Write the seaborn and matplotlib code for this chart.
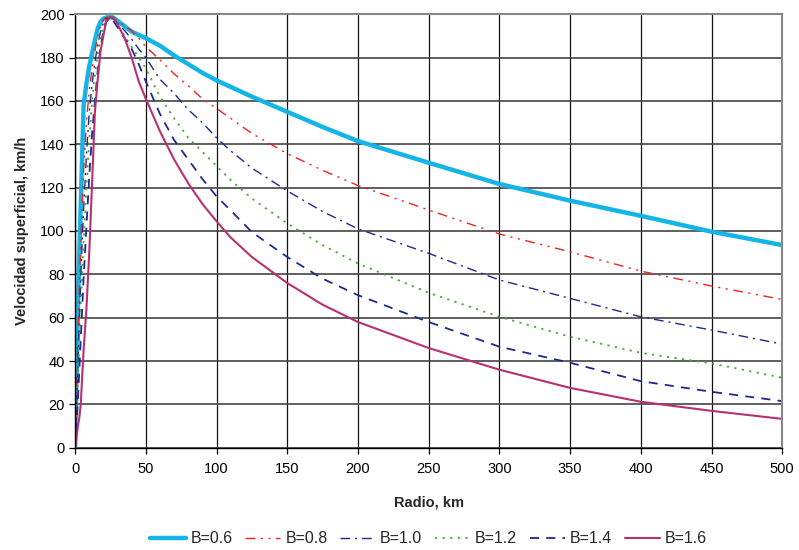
import matplotlib
matplotlib.use("Agg")
import matplotlib.pyplot as plt
import seaborn as sns
import pandas as pd

radius = [0, 1, 2, 3, 4, 5, 6, 8, 10, 12, 14, 16, 18, 20, 22, 25, 27, 30, 35, 40, 45, 50,
          60, 70, 80, 90, 100, 110, 125, 150, 175, 200, 250, 300, 350, 400, 450, 500]

v_b06 = [0, 35, 65, 90, 112, 135, 158, 168, 176, 182, 188, 193.5, 196.5, 198, 198.5, 198.7, 198.5,
         197, 194.5, 192, 190.5, 189, 185.5, 181, 177, 173, 169.5, 166.5, 162, 155, 148, 141.5, 131.5,
         121.7, 114, 107, 99.7, 93.5]
v_b08 = [0, 25, 50, 75, 95, 112, 128, 150, 165, 175, 183, 190, 195, 197.5, 198.5, 198.7, 198.5,
         197, 194.5, 192.5, 189, 185, 179, 172.5, 167, 161, 156.5, 152, 145, 135.7, 128, 121, 109.7,
         98.6, 90.4, 81.5, 74.6, 68.4]
v_b10 = [0, 18, 38, 58, 78, 95, 110, 135, 155, 168, 178, 186, 192, 196, 198, 198.7, 198,
         196, 192.5, 188.5, 184, 180, 170, 163.5, 156, 150, 143, 137, 129, 118.5, 109, 101, 89.7,
         77.4, 68.9, 60.4, 54.3, 47.8]
v_b12 = [0, 14, 30, 48, 65, 80, 95, 120, 142, 160, 172, 182, 189, 194, 197, 198.7, 197.5,
         195, 190, 185, 180, 175, 162, 152, 143, 136.5, 130, 123.5, 115, 103.5, 93.5, 85, 71.5,
         60.4, 51.2, 43.8, 38.9, 32.3]
v_b14 = [0, 10, 22, 36, 50, 64, 78, 102, 125, 145, 160, 174, 185, 192, 196.5, 198.7, 197,
         194, 189, 184, 177, 169, 154, 142, 133, 124, 116, 109.5, 99.5, 88, 78, 70.4, 58,
         46.6, 39.2, 30.7, 25.8, 21.5]
v_b16 = [0, 5, 10, 14, 20, 33, 45, 64, 90, 122, 155, 170, 183, 190, 197, 198.7, 198.5,
         195.5, 189, 180, 169, 161, 146, 133, 122, 112.5, 104.5, 97, 88, 76, 66, 58, 46,
         36, 27.6, 21.2, 17, 13.3]

labels = ["B=0.6", "B=0.8", "B=1.0", "B=1.2", "B=1.4", "B=1.6"]
series = [v_b06, v_b08, v_b10, v_b12, v_b14, v_b16]

styles = [
    dict(color="#14B4E6", lw=3.2, ls="-"),
    dict(color="#EE2222", lw=1.0, ls=(0, (7, 4, 1.5, 4, 1.5, 4))),
    dict(color="#1C2A8C", lw=1.0, ls=(0, (7, 3.5, 1.5, 3.5))),
    dict(color="#44AA33", lw=1.3, ls=(0, (1.2, 3))),
    dict(color="#1C2A8C", lw=1.3, ls=(0, (5, 4))),
    dict(color="#B83070", lw=1.5, ls="-"),
]

sns.set_style("white")
plt.rcParams['font.family'] = ['Liberation Sans', 'DejaVu Sans']

fig = plt.figure(figsize=(7.99, 5.5), dpi=100)
ax = fig.add_axes([0.094, 0.186, 0.885, 0.788])

for lab, vals, st in zip(labels, series, styles):
    df = pd.DataFrame({"r": radius, "v": vals})
    sns.lineplot(data=df, x="r", y="v", ax=ax, sort=False, label=lab,
                 color=st["color"], linewidth=st["lw"], linestyle=st["ls"])

ax.set_xlim(0, 500)
ax.set_ylim(0, 200)
ax.set_xticks(range(0, 501, 50))
ax.set_yticks(range(0, 201, 20))
ax.xaxis.grid(True, color="#111111", linewidth=0.9)
ax.yaxis.grid(True, color="#444444", linewidth=1.2)
ax.set_axisbelow(True)
ax.tick_params(axis="both", labelsize=10.5, length=4, direction="out", colors="black",
               bottom=True, left=True, width=0.9)
ax.tick_params(axis="x", pad=6)
for s in ["left", "bottom"]:
    ax.spines[s].set_color("black")
    ax.spines[s].set_linewidth(1.0)
for s in ["top", "right"]:
    ax.spines[s].set_color("#888888")
    ax.spines[s].set_linewidth(1.5)

ax.set_xlabel("Radio, km", fontsize=10.5, fontweight="bold", labelpad=14)
ax.set_ylabel("Velocidad superficial, km/h", fontsize=10.5, fontweight="bold", labelpad=8)

ax.legend(loc="upper center", bbox_to_anchor=(0.5, -0.16), ncol=6, frameon=False,
          fontsize=11.5, handlelength=2.2, columnspacing=0.8, handletextpad=0.3)

fig.savefig("out.png", dpi=100)
